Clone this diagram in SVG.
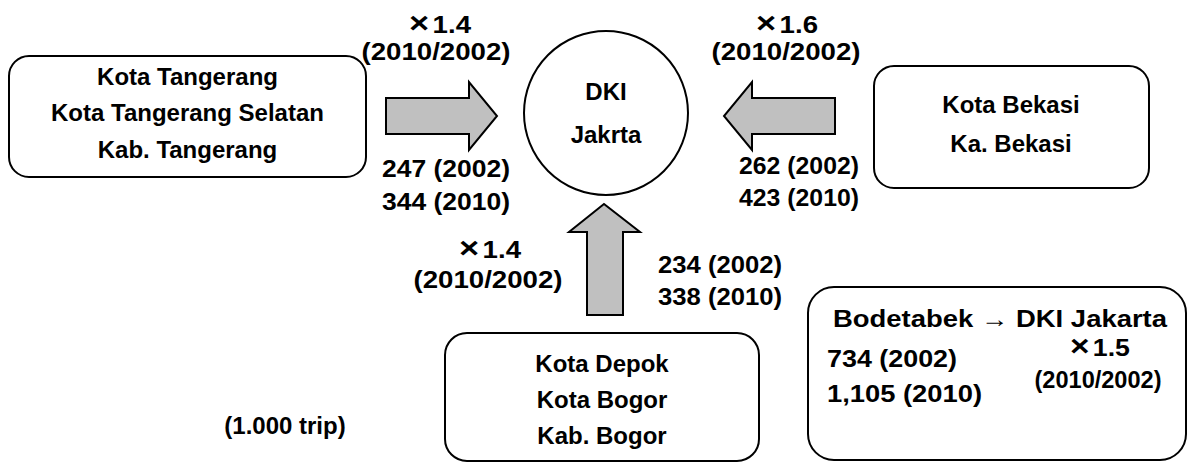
<svg xmlns="http://www.w3.org/2000/svg" width="1189" height="463" viewBox="0 0 1189 463">
<style>
.box{fill:#fff;stroke:#000;stroke-width:2}
.arr{fill:#c0c0c0;stroke:#000;stroke-width:2;stroke-linejoin:miter}
text{font-family:"Liberation Sans",Arial,sans-serif;font-weight:bold;font-size:24px;fill:#000}
.m{text-anchor:middle}
.x{font-size:30px}
</style>
<rect width="1189" height="463" fill="#fff"/>
<g id="connectors">
<path class="arr" d="M386,98 H469 V82 L497,116 L469,150 V134 H386 Z"/>
<path class="arr" d="M835,98 H752 V82 L724,116 L752,150 V134 H835 Z"/>
<path class="arr" d="M587,315 V232 H569 L604,204 L640,232 H623 V315 Z"/>
</g>
<g id="labels">
<text class="m" x="440" y="33" textLength="62" lengthAdjust="spacingAndGlyphs"><tspan class="x">×</tspan><tspan dx="3">1.4</tspan></text>
<text class="m" x="436" y="60" textLength="149" lengthAdjust="spacingAndGlyphs">(2010/2002)</text>
<text class="m" x="446" y="177" textLength="128" lengthAdjust="spacingAndGlyphs">247 (2002)</text>
<text class="m" x="446" y="210" textLength="128" lengthAdjust="spacingAndGlyphs">344 (2010)</text>
<text class="m" x="787" y="33" textLength="62" lengthAdjust="spacingAndGlyphs"><tspan class="x">×</tspan><tspan dx="3">1.6</tspan></text>
<text class="m" x="786" y="60" textLength="149" lengthAdjust="spacingAndGlyphs">(2010/2002)</text>
<text class="m" x="799" y="174" textLength="120" lengthAdjust="spacingAndGlyphs">262 (2002)</text>
<text class="m" x="799" y="206" textLength="120" lengthAdjust="spacingAndGlyphs">423 (2010)</text>
<text class="m" x="490" y="258" textLength="62" lengthAdjust="spacingAndGlyphs"><tspan class="x">×</tspan><tspan dx="3">1.4</tspan></text>
<text class="m" x="488" y="288" textLength="149" lengthAdjust="spacingAndGlyphs">(2010/2002)</text>
<text class="m" x="720" y="273" textLength="124" lengthAdjust="spacingAndGlyphs">234 (2002)</text>
<text class="m" x="720" y="305" textLength="124" lengthAdjust="spacingAndGlyphs">338 (2010)</text>
<text class="m" x="285" y="434">(1.000 trip)</text>
</g>
<g id="tangerang">
<rect class="box" x="9" y="56" width="357" height="121" rx="20"/>
<text class="m" x="187.5" y="85">Kota Tangerang</text>
<text class="m" x="187.5" y="121">Kota Tangerang Selatan</text>
<text class="m" x="187.5" y="158">Kab. Tangerang</text>
</g>
<g id="jakarta">
<circle class="box" cx="606" cy="113" r="82"/>
<text class="m" x="606" y="100">DKI</text>
<text class="m" x="606" y="143">Jakrta</text>
</g>
<g id="bekasi">
<rect class="box" x="874" y="66" width="275" height="122" rx="20"/>
<text class="m" x="1011" y="113">Kota Bekasi</text>
<text class="m" x="1011" y="152">Ka. Bekasi</text>
</g>
<g id="depok">
<rect class="box" x="445" y="333" width="314" height="128" rx="22"/>
<text class="m" x="602" y="372">Kota Depok</text>
<text class="m" x="602" y="408">Kota Bogor</text>
<text class="m" x="602" y="444">Kab. Bogor</text>
</g>
<g id="summary">
<rect class="box" x="808" y="287" width="378" height="173" rx="26"/>
<text x="833" y="327" textLength="334" lengthAdjust="spacingAndGlyphs">Bodetabek → DKI Jakarta</text>
<text x="827" y="367" textLength="130" lengthAdjust="spacingAndGlyphs">734 (2002)</text>
<text x="827" y="402" textLength="155" lengthAdjust="spacingAndGlyphs">1,105 (2010)</text>
<text class="m" x="1100" y="356" textLength="60" lengthAdjust="spacingAndGlyphs"><tspan class="x">×</tspan><tspan dx="3">1.5</tspan></text>
<text class="m" x="1098" y="388" textLength="127" lengthAdjust="spacingAndGlyphs">(2010/2002)</text>
</g>
</svg>
